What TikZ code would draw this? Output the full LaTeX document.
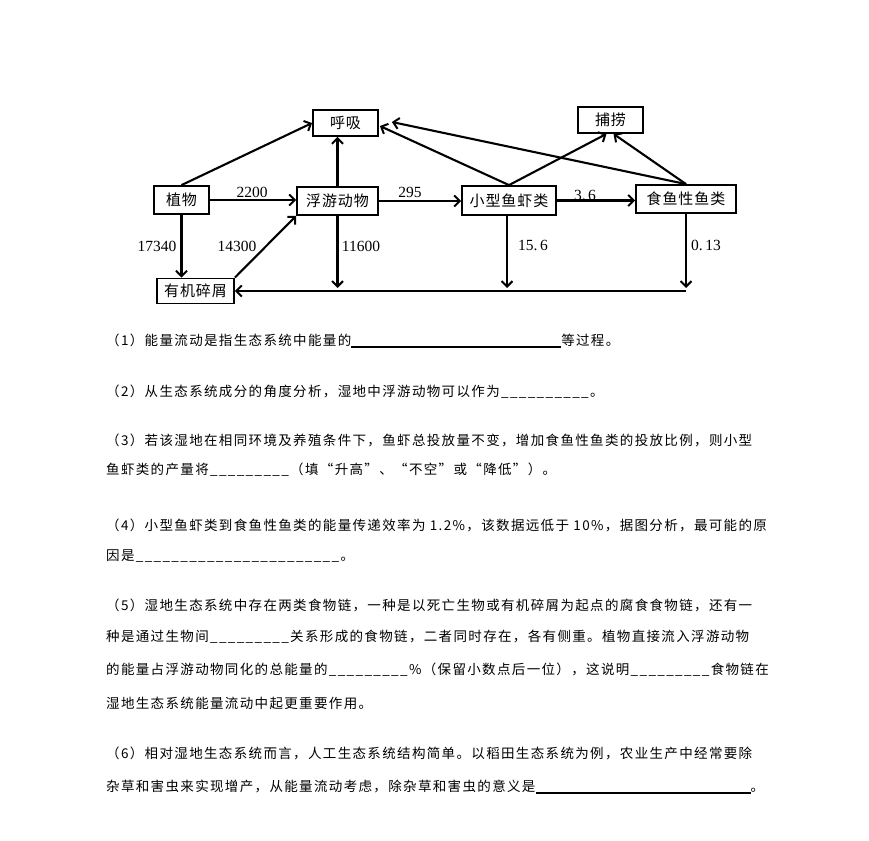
\documentclass[tikz,border=0pt]{standalone}
\usepackage{fontspec}
\setmainfont{Liberation Serif}
\newfontfamily\cjk[LetterSpace=10]{Noto Sans CJK SC}
\newfontfamily\cjkb[LetterSpace=6]{Noto Sans CJK SC}
\usetikzlibrary{arrows.meta,calc}
\newcommand\ublank[1]{\foreach\i in {1,...,#1}{\_}}
\begin{document}
\begin{tikzpicture}[x=1pt,y=-1pt,
  box/.style={draw,line width=1.8pt,inner sep=0pt,font=\cjkb\fontsize{15}{17}\selectfont},
  flow/.style={line width=2.1pt,-{Straight Barb[length=5.5pt,width=11pt,line width=2pt]}},
  num/.style={font=\fontsize{15.5}{17}\selectfont,inner sep=0pt},
  txt/.style={anchor=west,inner sep=0pt,font=\cjk\fontsize{13.5}{15}\selectfont}]
\fill[white] (0,0) rectangle (869,840);
\path[use as bounding box] (0,0) rectangle (869,840);
% boxes
\node[box,minimum width=65pt,minimum height=26pt] (hx) at (345.5,123) {呼吸};
\node[box,minimum width=65pt,minimum height=26pt] (bl) at (610.5,120) {捕捞};
\node[box,minimum width=55pt,minimum height=28pt] (zw) at (181.5,200) {植物};
\node[box,minimum width=81pt,minimum height=28pt] (fy) at (337.5,201) {浮游动物};
\node[box,minimum width=94pt,minimum height=29pt] (xx) at (509,200.5) {小型鱼虾类};
\node[box,minimum width=100pt,minimum height=28pt] (ss) at (686,199) {食鱼性鱼类};
\node[box,minimum width=77pt,minimum height=25pt] (jx) at (195.5,291) {有机碎屑};
% free ends
\coordinate (d1) at (337.5,288);
\coordinate (d2) at (507,288);
\coordinate (d3) at (686,288);
\coordinate (br) at (686,291);
% arrows to respiration
\draw[flow] (zw.north) -- (hx.west);
\draw[flow] (fy.north) -- (fy.north |- hx.south);
\draw[flow] (xx.north) -- ($(hx.east)+(1,3)$);
\draw[flow] (ss.north) -- ($(hx.east)+(13,-1)$);
% arrows to fishing
\draw[flow] (xx.north) -- ($(bl.south)+(-4,0)$);
\draw[flow] (ss.north) -- ($(bl.south)+(3,0)$);
% chain
\draw[flow] (zw.east) -- (zw.east -| fy.west);
\draw[flow] (fy.east) -- (fy.east -| xx.west);
\draw[flow] (xx.east) -- (xx.east -| ss.west);
\node[num] (n2200) at (252,192) {2200};
\node[num] (n295) at (410,192) {295};
\node[num] (n36) at (585,195) {3.\,6};
% detritus
\draw[flow] (zw.south) -- (zw.south |- jx.north);
\draw[flow] (jx.north east) -- (fy.south west);
\draw[flow] (fy.south) -- (d1);
\draw[flow] (xx.south -| d2) -- (d2);
\draw[flow] (ss.south) -- (d3);
\draw[flow] (br) -- (jx.east);
\node[num] (n17340) at (157,246) {17340};
\node[num] (n14300) at (237,246) {14300};
\node[num] (n11600) at (361,246) {11600};
\node[num] (n156) at (533,245) {15.\,6};
\node[num] (n013) at (706,245) {0.\,13};
% questions
\node[txt] (t1) at (106,341) {（1）能量流动是指生态系统中能量的\rule[-2pt]{210pt}{1.3pt}等过程。};
\node[txt] (t2) at (106,392) {（2）从生态系统成分的角度分析，湿地中浮游动物可以作为\ublank{10}。};
\node[txt] (t3) at (106,440) {（3）若该湿地在相同环境及养殖条件下，鱼虾总投放量不变，增加食鱼性鱼类的投放比例，则小型};
\node[txt] (t3b) at (106,470) {鱼虾类的产量将\ublank{9}（填“升高”、“不空”或“降低”）。};
\node[txt] (t4) at (106,525) {（4）小型鱼虾类到食鱼性鱼类的能量传递效率为 1.2\%，该数据远低于 10\%，据图分析，最可能的原};
\node[txt] (t4b) at (106,556) {因是\ublank{23}。};
\node[txt] (t5) at (106,605) {（5）湿地生态系统中存在两类食物链，一种是以死亡生物或有机碎屑为起点的腐食食物链，还有一};
\node[txt] (t5b) at (106,637) {种是通过生物间\ublank{9}关系形成的食物链，二者同时存在，各有侧重。植物直接流入浮游动物};
\node[txt] (t5c) at (106,670) {的能量占浮游动物同化的总能量的\ublank{9}\%（保留小数点后一位），这说明\ublank{9}食物链在};
\node[txt] (t5d) at (106,703) {湿地生态系统能量流动中起更重要作用。};
\node[txt] (t6) at (106,753) {（6）相对湿地生态系统而言，人工生态系统结构简单。以稻田生态系统为例，农业生产中经常要除};
\node[txt] (t6b) at (106,787) {杂草和害虫来实现增产，从能量流动考虑，除杂草和害虫的意义是\rule[-2pt]{215pt}{1.3pt}。};
\end{tikzpicture}
\end{document}
